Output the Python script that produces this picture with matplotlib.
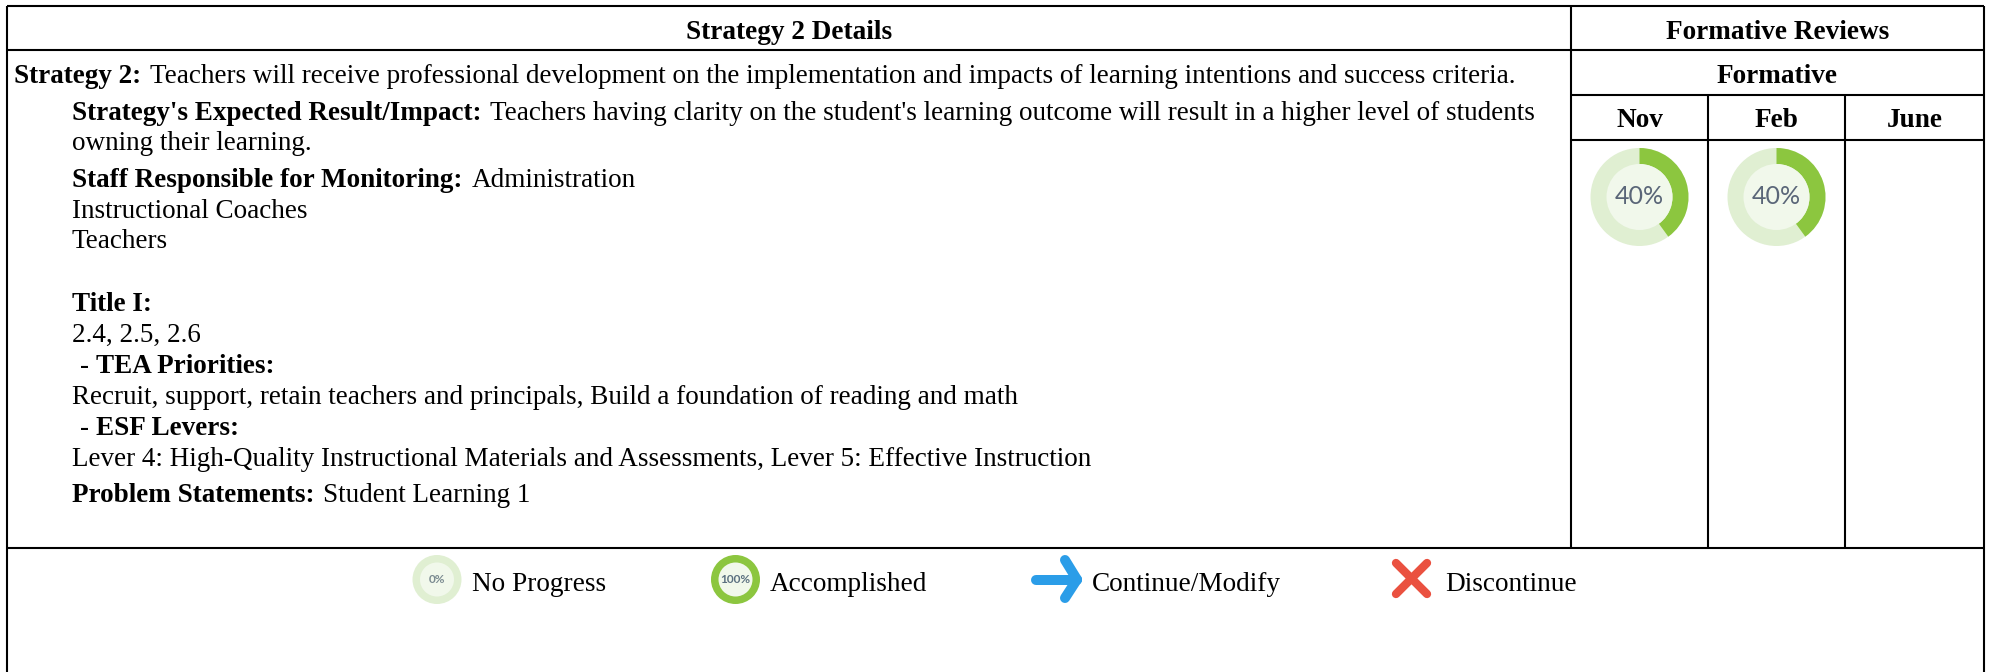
import matplotlib
matplotlib.use("Agg")
import matplotlib.pyplot as plt
from matplotlib.patches import Wedge, Circle

plt.rcParams['font.family'] = ['Liberation Serif', 'DejaVu Serif']

W, H = 1989, 672
FS = 19.5
HEAD_FS = 19.6
BLACK = '#000000'
GREEN = '#8CC63F'
PALE = '#E0EFD2'
CENTRE = '#F1F8EB'

# review columns
months = ['Nov', 'Feb', 'June']
progress = [40, 40, None]

# text lines: (x, baseline, bold part, normal part)
lines = [
    (14, 83, "Strategy 2:", "Teachers will receive professional development on the implementation and impacts of learning intentions and success criteria."),
    (72, 120, "Strategy's Expected Result/Impact:", "Teachers having clarity on the student's learning outcome will result in a higher level of students"),
    (72, 150, "", "owning their learning."),
    (72, 187, "Staff Responsible for Monitoring:", "Administration"),
    (72, 218, "", "Instructional Coaches"),
    (72, 248, "", "Teachers"),
    (72, 311, "Title I:", ""),
    (72, 342, "", "2.4, 2.5, 2.6"),
    (72, 404, "", "Recruit, support, retain teachers and principals, Build a foundation of reading and math"),
    (72, 466, "", "Lever 4: High-Quality Instructional Materials and Assessments, Lever 5: Effective Instruction"),
    (72, 502, "Problem Statements:", "Student Learning 1"),
]
sub_heads = [(373, "TEA Priorities:"), (435, "ESF Levers:")]

legend_labels = ['No Progress', 'Accomplished', 'Continue/Modify', 'Discontinue']
legend_text_x = [472, 770, 1092, 1445]

fig = plt.figure(figsize=(W / 100, H / 100), dpi=100)
ax = fig.add_axes([0, 0, 1, 1])
ax.set_xlim(0, W)
ax.set_ylim(H, 0)
ax.axis('off')

# table rules
LEFT, RIGHT, TOP, BOTTOM = 7, 1984, 6, 548
col0, col1, col2 = 1571, 1708, 1845
row0, row1, row2 = 50, 95, 140
lw = 1.5


def hline(y, x0=LEFT, x1=RIGHT):
    ax.plot([x0, x1], [y, y], color=BLACK, lw=lw, solid_capstyle='butt')


def vline(x, y0=TOP, y1=BOTTOM):
    ax.plot([x, x], [y0, y1], color=BLACK, lw=lw, solid_capstyle='butt')


hline(TOP)
hline(row0)
hline(row1, col0)
hline(row2, col0)
hline(BOTTOM)
vline(LEFT, TOP, H)
vline(RIGHT, TOP, H)
vline(col0)
vline(col1, row1)
vline(col2, row1)

# headers
hdr = dict(fontsize=HEAD_FS, fontweight='bold', ha='center', va='baseline')
ax.text((LEFT + col0) / 2, 39, 'Strategy 2 Details', **hdr)
ax.text((col0 + RIGHT) / 2, 39, 'Formative Reviews', **hdr)
ax.text((col0 + RIGHT) / 2, 83, 'Formative', **hdr)
month_x = [(col0 + col1) / 2, (col1 + col2) / 2, (col2 + RIGHT) / 2]
for x, m in zip(month_x, months):
    ax.text(x, 127, m, **hdr)

# body text
fig.canvas.draw()
rend = fig.canvas.get_renderer()
inv = ax.transData.inverted()


def put_line(x, y, bold, normal):
    if bold:
        t = ax.text(x, y, bold, fontsize=FS, fontweight='bold', va='baseline')
        x = inv.transform(t.get_window_extent(rend))[1][0] + 9
    if normal:
        ax.text(x, y, normal, fontsize=FS, va='baseline')


for x, y, b, n in lines:
    put_line(x, y, b, n)
for y, s in sub_heads:
    ax.text(80, y, '-', fontsize=FS, va='baseline')
    ax.text(96, y, s, fontsize=FS, fontweight='bold', va='baseline')

# progress rings
ring_y, r_out, r_in = 197, 49, 33
for x, p in zip(month_x, progress):
    if p is None:
        continue
    ax.add_patch(Circle((x, ring_y), r_out, fc=PALE, ec='none'))
    ax.add_patch(Wedge((x, ring_y), r_out, -90, -90 + 360 * p / 100, width=r_out - r_in, fc=GREEN, ec='none'))
    ax.add_patch(Circle((x, ring_y), r_in, fc=CENTRE, ec='none'))
    ax.text(x, ring_y, f'{p}%', fontsize=18, family='Lato', color='#5A6678', ha='center', va='center')

# legend icons
ly = 579.5
ax.add_patch(Circle((437, ly), 24.5, fc=PALE, ec='none'))
ax.add_patch(Circle((437, ly), 17, fc=CENTRE, ec='none'))
ax.text(437, ly, '0%', fontsize=8.5, fontweight='bold', family='Lato', color='#7A8A90', ha='center', va='center')
ax.add_patch(Circle((735.5, ly), 24.5, fc=GREEN, ec='none'))
ax.add_patch(Circle((735.5, ly), 17, fc=CENTRE, ec='none'))
ax.text(735.5, ly, '100%', fontsize=8.5, fontweight='bold', family='Lato', color='#5B7080', ha='center', va='center')

arrow = dict(color='#2B9DE8', lw=7.2, solid_capstyle='round')
ax.plot([1036, 1077], [ly, ly], **arrow)
ax.plot([1065, 1077], [560, ly], **arrow)
ax.plot([1065, 1077], [598, ly], **arrow)

cross = dict(color='#EA5140', lw=6, solid_capstyle='round')
ax.plot([1396, 1427], [563, 594], **cross)
ax.plot([1427, 1396], [563, 594], **cross)

for x, s in zip(legend_text_x, legend_labels):
    ax.text(x, 591, s, fontsize=HEAD_FS, va='baseline')

fig.savefig('out.png', dpi=100)
